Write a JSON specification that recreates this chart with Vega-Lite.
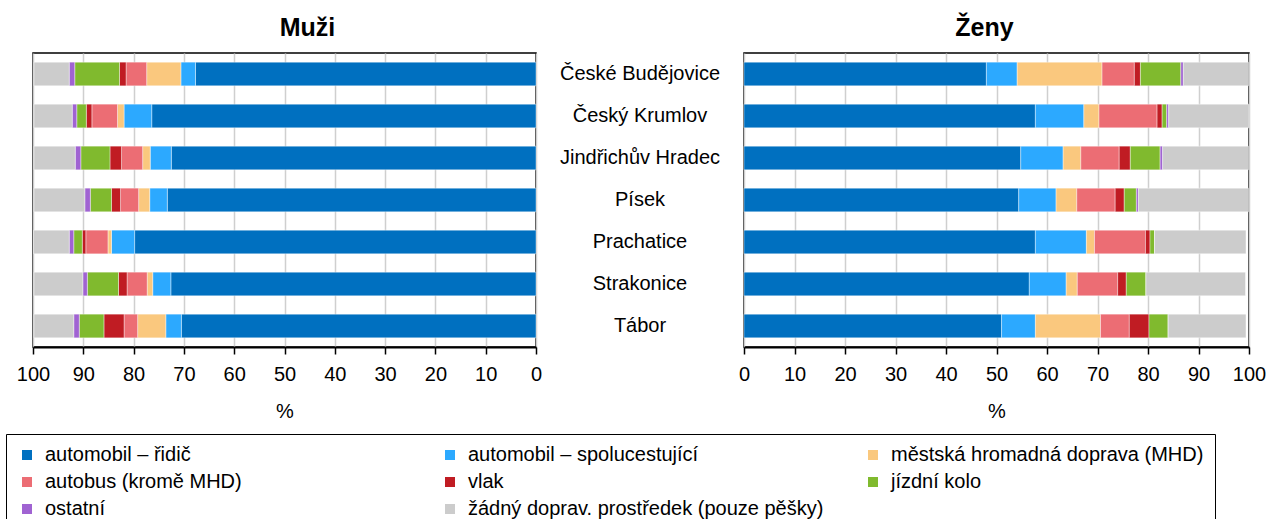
{
  "$schema": "https://vega.github.io/schema/vega-lite/v6.json",
  "autosize": {"type": "pad"},
  "padding": {"left": 5, "top": 15, "right": 0, "bottom": 0},
  "bounds": "flush",
  "spacing": 0,
  "background": "white",
  "config": {
    "font": "Liberation Sans",
    "view": {"stroke": "black", "strokeWidth": 1.5},
    "title": {"fontSize": 25, "fontWeight": "bold", "color": "black", "font": "Liberation Sans", "offset": 12},
    "axis": {
      "labelFont": "Liberation Sans", "labelFontSize": 20, "labelColor": "black", "labelFlush": false,
      "titleFont": "Liberation Sans", "titleFontSize": 20, "titleFontWeight": "normal", "titleColor": "black",
      "domainColor": "black", "domainWidth": 2, "tickColor": "black", "tickWidth": 1.5, "tickSize": 7,
      "labelPadding": 10, "gridColor": "#cfcfcf", "gridWidth": 1.5, "titlePadding": 17
    },
    "legend": {
      "orient": "none", "legendX": -27, "legendY": 381, "columns": 3, "direction": "horizontal", "gridAlign": "all",
      "columnPadding": 39, "rowPadding": 7, "symbolType": "square", "symbolSize": 100,
      "symbolStrokeWidth": 0, "symbolOpacity": 1, "labelFont": "Liberation Sans", "labelFontSize": 20, "labelLimit": 600,
      "labelOffset": 8, "labelColor": "black", "strokeColor": "black", "strokeWidth": 1, "padding": 11
    }
  },
  "datasets": {
    "podily": [
      {"pohlavi": "Muži", "mesto": "České Budějovice", "druh": "automobil – řidič", "podil": 67.7},
      {"pohlavi": "Muži", "mesto": "České Budějovice", "druh": "automobil – spolucestující", "podil": 2.9},
      {"pohlavi": "Muži", "mesto": "České Budějovice", "druh": "městská hromadná doprava (MHD)", "podil": 6.8},
      {"pohlavi": "Muži", "mesto": "České Budějovice", "druh": "autobus (kromě MHD)", "podil": 4.1},
      {"pohlavi": "Muži", "mesto": "České Budějovice", "druh": "vlak", "podil": 1.3},
      {"pohlavi": "Muži", "mesto": "České Budějovice", "druh": "jízdní kolo", "podil": 8.9},
      {"pohlavi": "Muži", "mesto": "České Budějovice", "druh": "ostatní", "podil": 1.1},
      {"pohlavi": "Muži", "mesto": "České Budějovice", "druh": "žádný doprav. prostředek (pouze pěšky)", "podil": 7.0},
      {"pohlavi": "Muži", "mesto": "Český Krumlov", "druh": "automobil – řidič", "podil": 76.4},
      {"pohlavi": "Muži", "mesto": "Český Krumlov", "druh": "automobil – spolucestující", "podil": 5.5},
      {"pohlavi": "Muži", "mesto": "Český Krumlov", "druh": "městská hromadná doprava (MHD)", "podil": 1.3},
      {"pohlavi": "Muži", "mesto": "Český Krumlov", "druh": "autobus (kromě MHD)", "podil": 5.1},
      {"pohlavi": "Muži", "mesto": "Český Krumlov", "druh": "vlak", "podil": 1.1},
      {"pohlavi": "Muži", "mesto": "Český Krumlov", "druh": "jízdní kolo", "podil": 1.9},
      {"pohlavi": "Muži", "mesto": "Český Krumlov", "druh": "ostatní", "podil": 0.9},
      {"pohlavi": "Muži", "mesto": "Český Krumlov", "druh": "žádný doprav. prostředek (pouze pěšky)", "podil": 7.6},
      {"pohlavi": "Muži", "mesto": "Jindřichův Hradec", "druh": "automobil – řidič", "podil": 72.5},
      {"pohlavi": "Muži", "mesto": "Jindřichův Hradec", "druh": "automobil – spolucestující", "podil": 4.2},
      {"pohlavi": "Muži", "mesto": "Jindřichův Hradec", "druh": "městská hromadná doprava (MHD)", "podil": 1.5},
      {"pohlavi": "Muži", "mesto": "Jindřichův Hradec", "druh": "autobus (kromě MHD)", "podil": 4.2},
      {"pohlavi": "Muži", "mesto": "Jindřichův Hradec", "druh": "vlak", "podil": 2.3},
      {"pohlavi": "Muži", "mesto": "Jindřichův Hradec", "druh": "jízdní kolo", "podil": 5.8},
      {"pohlavi": "Muži", "mesto": "Jindřichův Hradec", "druh": "ostatní", "podil": 1.1},
      {"pohlavi": "Muži", "mesto": "Jindřichův Hradec", "druh": "žádný doprav. prostředek (pouze pěšky)", "podil": 8.2},
      {"pohlavi": "Muži", "mesto": "Písek", "druh": "automobil – řidič", "podil": 73.3},
      {"pohlavi": "Muži", "mesto": "Písek", "druh": "automobil – spolucestující", "podil": 3.5},
      {"pohlavi": "Muži", "mesto": "Písek", "druh": "městská hromadná doprava (MHD)", "podil": 2.2},
      {"pohlavi": "Muži", "mesto": "Písek", "druh": "autobus (kromě MHD)", "podil": 3.6},
      {"pohlavi": "Muži", "mesto": "Písek", "druh": "vlak", "podil": 1.8},
      {"pohlavi": "Muži", "mesto": "Písek", "druh": "jízdní kolo", "podil": 4.2},
      {"pohlavi": "Muži", "mesto": "Písek", "druh": "ostatní", "podil": 1.1},
      {"pohlavi": "Muži", "mesto": "Písek", "druh": "žádný doprav. prostředek (pouze pěšky)", "podil": 10.1},
      {"pohlavi": "Muži", "mesto": "Prachatice", "druh": "automobil – řidič", "podil": 79.8},
      {"pohlavi": "Muži", "mesto": "Prachatice", "druh": "automobil – spolucestující", "podil": 4.6},
      {"pohlavi": "Muži", "mesto": "Prachatice", "druh": "městská hromadná doprava (MHD)", "podil": 0.7},
      {"pohlavi": "Muži", "mesto": "Prachatice", "druh": "autobus (kromě MHD)", "podil": 4.4},
      {"pohlavi": "Muži", "mesto": "Prachatice", "druh": "vlak", "podil": 0.7},
      {"pohlavi": "Muži", "mesto": "Prachatice", "druh": "jízdní kolo", "podil": 1.7},
      {"pohlavi": "Muži", "mesto": "Prachatice", "druh": "ostatní", "podil": 0.9},
      {"pohlavi": "Muži", "mesto": "Prachatice", "druh": "žádný doprav. prostředek (pouze pěšky)", "podil": 7.1},
      {"pohlavi": "Muži", "mesto": "Strakonice", "druh": "automobil – řidič", "podil": 72.6},
      {"pohlavi": "Muži", "mesto": "Strakonice", "druh": "automobil – spolucestující", "podil": 3.6},
      {"pohlavi": "Muži", "mesto": "Strakonice", "druh": "městská hromadná doprava (MHD)", "podil": 1.1},
      {"pohlavi": "Muži", "mesto": "Strakonice", "druh": "autobus (kromě MHD)", "podil": 4.0},
      {"pohlavi": "Muži", "mesto": "Strakonice", "druh": "vlak", "podil": 1.7},
      {"pohlavi": "Muži", "mesto": "Strakonice", "druh": "jízdní kolo", "podil": 6.2},
      {"pohlavi": "Muži", "mesto": "Strakonice", "druh": "ostatní", "podil": 0.9},
      {"pohlavi": "Muži", "mesto": "Strakonice", "druh": "žádný doprav. prostředek (pouze pěšky)", "podil": 9.7},
      {"pohlavi": "Muži", "mesto": "Tábor", "druh": "automobil – řidič", "podil": 70.5},
      {"pohlavi": "Muži", "mesto": "Tábor", "druh": "automobil – spolucestující", "podil": 3.1},
      {"pohlavi": "Muži", "mesto": "Tábor", "druh": "městská hromadná doprava (MHD)", "podil": 5.6},
      {"pohlavi": "Muži", "mesto": "Tábor", "druh": "autobus (kromě MHD)", "podil": 2.7},
      {"pohlavi": "Muži", "mesto": "Tábor", "druh": "vlak", "podil": 4.0},
      {"pohlavi": "Muži", "mesto": "Tábor", "druh": "jízdní kolo", "podil": 4.9},
      {"pohlavi": "Muži", "mesto": "Tábor", "druh": "ostatní", "podil": 1.1},
      {"pohlavi": "Muži", "mesto": "Tábor", "druh": "žádný doprav. prostředek (pouze pěšky)", "podil": 7.9},
      {"pohlavi": "Ženy", "mesto": "České Budějovice", "druh": "automobil – řidič", "podil": 48.0},
      {"pohlavi": "Ženy", "mesto": "České Budějovice", "druh": "automobil – spolucestující", "podil": 6.1},
      {"pohlavi": "Ženy", "mesto": "České Budějovice", "druh": "městská hromadná doprava (MHD)", "podil": 16.8},
      {"pohlavi": "Ženy", "mesto": "České Budějovice", "druh": "autobus (kromě MHD)", "podil": 6.4},
      {"pohlavi": "Ženy", "mesto": "České Budějovice", "druh": "vlak", "podil": 1.2},
      {"pohlavi": "Ženy", "mesto": "České Budějovice", "druh": "jízdní kolo", "podil": 8.0},
      {"pohlavi": "Ženy", "mesto": "České Budějovice", "druh": "ostatní", "podil": 0.5},
      {"pohlavi": "Ženy", "mesto": "České Budějovice", "druh": "žádný doprav. prostředek (pouze pěšky)", "podil": 12.9},
      {"pohlavi": "Ženy", "mesto": "Český Krumlov", "druh": "automobil – řidič", "podil": 57.7},
      {"pohlavi": "Ženy", "mesto": "Český Krumlov", "druh": "automobil – spolucestující", "podil": 9.6},
      {"pohlavi": "Ženy", "mesto": "Český Krumlov", "druh": "městská hromadná doprava (MHD)", "podil": 3.0},
      {"pohlavi": "Ženy", "mesto": "Český Krumlov", "druh": "autobus (kromě MHD)", "podil": 11.5},
      {"pohlavi": "Ženy", "mesto": "Český Krumlov", "druh": "vlak", "podil": 1.0},
      {"pohlavi": "Ženy", "mesto": "Český Krumlov", "druh": "jízdní kolo", "podil": 0.9},
      {"pohlavi": "Ženy", "mesto": "Český Krumlov", "druh": "ostatní", "podil": 0.4},
      {"pohlavi": "Ženy", "mesto": "Český Krumlov", "druh": "žádný doprav. prostředek (pouze pěšky)", "podil": 15.9},
      {"pohlavi": "Ženy", "mesto": "Jindřichův Hradec", "druh": "automobil – řidič", "podil": 54.8},
      {"pohlavi": "Ženy", "mesto": "Jindřichův Hradec", "druh": "automobil – spolucestující", "podil": 8.4},
      {"pohlavi": "Ženy", "mesto": "Jindřichův Hradec", "druh": "městská hromadná doprava (MHD)", "podil": 3.5},
      {"pohlavi": "Ženy", "mesto": "Jindřichův Hradec", "druh": "autobus (kromě MHD)", "podil": 7.6},
      {"pohlavi": "Ženy", "mesto": "Jindřichův Hradec", "druh": "vlak", "podil": 2.2},
      {"pohlavi": "Ženy", "mesto": "Jindřichův Hradec", "druh": "jízdní kolo", "podil": 5.9},
      {"pohlavi": "Ženy", "mesto": "Jindřichův Hradec", "druh": "ostatní", "podil": 0.5},
      {"pohlavi": "Ženy", "mesto": "Jindřichův Hradec", "druh": "žádný doprav. prostředek (pouze pěšky)", "podil": 17.0},
      {"pohlavi": "Ženy", "mesto": "Písek", "druh": "automobil – řidič", "podil": 54.4},
      {"pohlavi": "Ženy", "mesto": "Písek", "druh": "automobil – spolucestující", "podil": 7.4},
      {"pohlavi": "Ženy", "mesto": "Písek", "druh": "městská hromadná doprava (MHD)", "podil": 4.1},
      {"pohlavi": "Ženy", "mesto": "Písek", "druh": "autobus (kromě MHD)", "podil": 7.6},
      {"pohlavi": "Ženy", "mesto": "Písek", "druh": "vlak", "podil": 1.8},
      {"pohlavi": "Ženy", "mesto": "Písek", "druh": "jízdní kolo", "podil": 2.4},
      {"pohlavi": "Ženy", "mesto": "Písek", "druh": "ostatní", "podil": 0.4},
      {"pohlavi": "Ženy", "mesto": "Písek", "druh": "žádný doprav. prostředek (pouze pěšky)", "podil": 21.8},
      {"pohlavi": "Ženy", "mesto": "Prachatice", "druh": "automobil – řidič", "podil": 57.7},
      {"pohlavi": "Ženy", "mesto": "Prachatice", "druh": "automobil – spolucestující", "podil": 10.1},
      {"pohlavi": "Ženy", "mesto": "Prachatice", "druh": "městská hromadná doprava (MHD)", "podil": 1.6},
      {"pohlavi": "Ženy", "mesto": "Prachatice", "druh": "autobus (kromě MHD)", "podil": 10.1},
      {"pohlavi": "Ženy", "mesto": "Prachatice", "druh": "vlak", "podil": 0.9},
      {"pohlavi": "Ženy", "mesto": "Prachatice", "druh": "jízdní kolo", "podil": 0.9},
      {"pohlavi": "Ženy", "mesto": "Prachatice", "druh": "ostatní", "podil": 0},
      {"pohlavi": "Ženy", "mesto": "Prachatice", "druh": "žádný doprav. prostředek (pouze pěšky)", "podil": 18.1},
      {"pohlavi": "Ženy", "mesto": "Strakonice", "druh": "automobil – řidič", "podil": 56.5},
      {"pohlavi": "Ženy", "mesto": "Strakonice", "druh": "automobil – spolucestující", "podil": 7.3},
      {"pohlavi": "Ženy", "mesto": "Strakonice", "druh": "městská hromadná doprava (MHD)", "podil": 2.2},
      {"pohlavi": "Ženy", "mesto": "Strakonice", "druh": "autobus (kromě MHD)", "podil": 8.0},
      {"pohlavi": "Ženy", "mesto": "Strakonice", "druh": "vlak", "podil": 1.7},
      {"pohlavi": "Ženy", "mesto": "Strakonice", "druh": "jízdní kolo", "podil": 3.9},
      {"pohlavi": "Ženy", "mesto": "Strakonice", "druh": "ostatní", "podil": 0},
      {"pohlavi": "Ženy", "mesto": "Strakonice", "druh": "žádný doprav. prostředek (pouze pěšky)", "podil": 19.7},
      {"pohlavi": "Ženy", "mesto": "Tábor", "druh": "automobil – řidič", "podil": 51.0},
      {"pohlavi": "Ženy", "mesto": "Tábor", "druh": "automobil – spolucestující", "podil": 6.7},
      {"pohlavi": "Ženy", "mesto": "Tábor", "druh": "městská hromadná doprava (MHD)", "podil": 12.9},
      {"pohlavi": "Ženy", "mesto": "Tábor", "druh": "autobus (kromě MHD)", "podil": 5.7},
      {"pohlavi": "Ženy", "mesto": "Tábor", "druh": "vlak", "podil": 3.9},
      {"pohlavi": "Ženy", "mesto": "Tábor", "druh": "jízdní kolo", "podil": 3.8},
      {"pohlavi": "Ženy", "mesto": "Tábor", "druh": "ostatní", "podil": 0},
      {"pohlavi": "Ženy", "mesto": "Tábor", "druh": "žádný doprav. prostředek (pouze pěšky)", "podil": 15.4}
    ]
  },
  "resolve": {"scale": {"color": "shared"}, "legend": {"color": "shared"}},
  "hconcat": [
    {
      "width": 503, "height": 294,
      "title": {"text": "Muži", "dx": 23},
      "data": {"name": "podily"},
      "transform": [
        {"filter": "datum.pohlavi === 'Muži'"},
        {"calculate": "indexof(['automobil – řidič', 'automobil – spolucestující', 'městská hromadná doprava (MHD)', 'autobus (kromě MHD)', 'vlak', 'jízdní kolo', 'ostatní', 'žádný doprav. prostředek (pouze pěšky)'], datum.druh)", "as": "poradi"}
      ],
      "mark": {"type": "bar", "stroke": "white", "strokeWidth": 0.4},
      "encoding": {
        "y": {"field": "mesto", "type": "nominal", "sort": null, "axis": null,
              "scale": {"paddingInner": 0.436, "paddingOuter": 0.218}},
        "x": {"field": "podil", "type": "quantitative", "stack": "zero",
              "scale": {"domain": [0, 100], "reverse": true, "nice": false},
              "axis": {"title": "%", "values": [0, 10, 20, 30, 40, 50, 60, 70, 80, 90, 100]}},
        "order": {"field": "poradi", "type": "quantitative", "sort": "ascending"},
        "color": {"field": "druh", "type": "nominal",
                  "sort": ["automobil – řidič", "automobil – spolucestující", "městská hromadná doprava (MHD)", "autobus (kromě MHD)", "vlak", "jízdní kolo", "ostatní", "žádný doprav. prostředek (pouze pěšky)"],
                  "scale": {"domain": ["automobil – řidič", "automobil – spolucestující", "městská hromadná doprava (MHD)", "autobus (kromě MHD)", "vlak", "jízdní kolo", "ostatní", "žádný doprav. prostředek (pouze pěšky)"],
                            "range": ["#0070C0", "#2CA9FF", "#FAC87E", "#EC6D74", "#C01C23", "#80BA2E", "#A063D2", "#CCCCCC"]},
                  "legend": {"title": null}}
      }
    },
    {
      "width": 208, "height": 294,
      "view": {"stroke": null},
      "data": {"name": "podily"},
      "transform": [{"filter": "datum.pohlavi === 'Muži' && datum.druh === 'vlak'"}],
      "mark": {"type": "text", "fontSize": 20, "color": "black", "font": "Liberation Sans"},
      "encoding": {
        "y": {"field": "mesto", "type": "nominal", "sort": null, "axis": null,
              "scale": {"paddingInner": 0.436, "paddingOuter": 0.218}},
        "text": {"field": "mesto"}
      }
    },
    {
      "width": 505, "height": 294,
      "title": {"text": "Ženy", "dx": -12},
      "data": {"name": "podily"},
      "transform": [
        {"filter": "datum.pohlavi === 'Ženy'"},
        {"calculate": "indexof(['automobil – řidič', 'automobil – spolucestující', 'městská hromadná doprava (MHD)', 'autobus (kromě MHD)', 'vlak', 'jízdní kolo', 'ostatní', 'žádný doprav. prostředek (pouze pěšky)'], datum.druh)", "as": "poradi"}
      ],
      "mark": {"type": "bar", "stroke": "white", "strokeWidth": 0.4},
      "encoding": {
        "y": {"field": "mesto", "type": "nominal", "sort": null, "axis": null,
              "scale": {"paddingInner": 0.436, "paddingOuter": 0.218}},
        "x": {"field": "podil", "type": "quantitative", "stack": "zero",
              "scale": {"domain": [0, 100], "nice": false},
              "axis": {"title": "%", "values": [0, 10, 20, 30, 40, 50, 60, 70, 80, 90, 100]}},
        "order": {"field": "poradi", "type": "quantitative", "sort": "ascending"},
        "color": {"field": "druh", "type": "nominal",
                  "sort": ["automobil – řidič", "automobil – spolucestující", "městská hromadná doprava (MHD)", "autobus (kromě MHD)", "vlak", "jízdní kolo", "ostatní", "žádný doprav. prostředek (pouze pěšky)"],
                  "legend": {"title": null}}
      }
    }
  ]
}
